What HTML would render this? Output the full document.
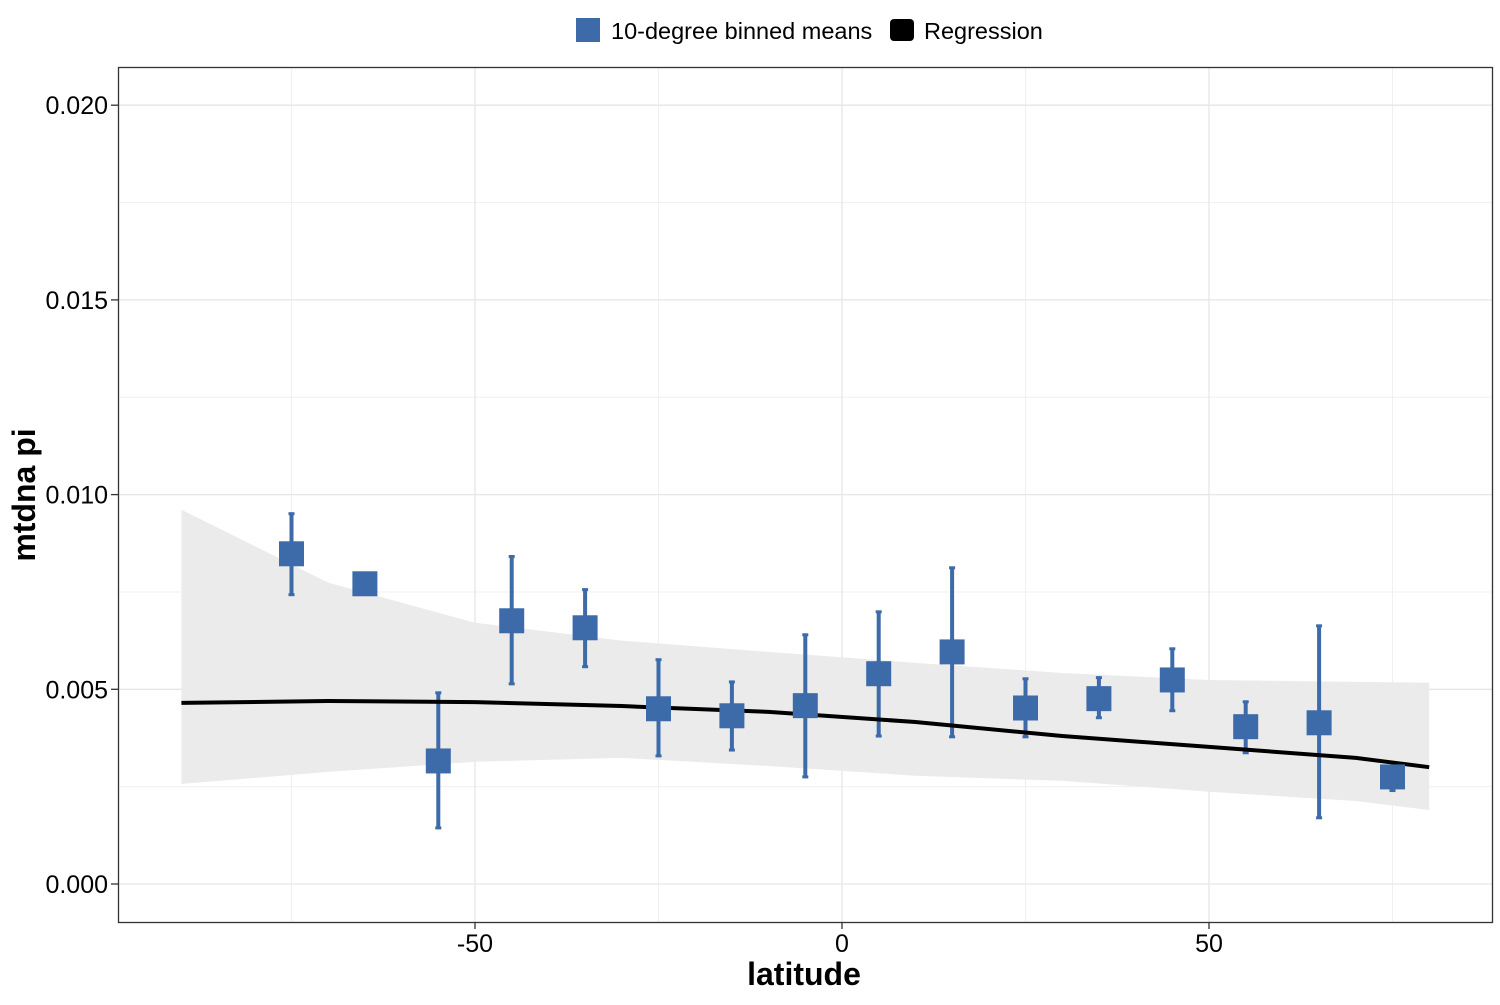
<!DOCTYPE html>
<html><head><meta charset="utf-8"><style>
body{margin:0;background:#fff;font-family:"Liberation Sans",sans-serif}
</style></head><body>
<svg width="1500" height="1000" xmlns="http://www.w3.org/2000/svg">
<g id="grid"></g>
<g id="plot"></g>
<rect x="118.5" y="67.5" width="1374" height="855" fill="none" stroke="#333" stroke-width="1.3"/>
<g id="axes"></g>
<text x="804" y="985" font-size="32" font-weight="bold" text-anchor="middle">latitude</text>
<text transform="translate(35,495) rotate(-90)" font-size="32" font-weight="bold" text-anchor="middle">mtdna pi</text>
<g>
<g><rect x="576" y="18" width="24" height="24" fill="#3d6aa8"/><text x="611" y="39" font-size="23.5">10-degree binned means</text></g>
<g><rect x="890" y="19" width="24" height="22" fill="#000" rx="4"/><text x="924" y="39" font-size="23.5">Regression</text></g>
</g>
</svg>
<script>
const binLat=[-75,-65,-55,-45,-35,-25,-15,-5,5,15,25,35,45,55,65,75];
const binMean=[0.00848,0.00771,0.00316,0.00676,0.00658,0.0045,0.00432,0.00458,0.0054,0.00596,0.00452,0.00476,0.00524,0.00404,0.00414,0.00275];
const binHi=[0.00951,0.00771,0.00491,0.00841,0.00756,0.00576,0.00519,0.0064,0.00699,0.00812,0.00527,0.0053,0.00604,0.00468,0.00663,0.0029];
const binLo=[0.00743,0.00771,0.00144,0.00514,0.00558,0.00329,0.00344,0.00275,0.0038,0.00378,0.00378,0.00427,0.00445,0.00337,0.0017,0.0024];
const regLat=[-90,-70,-50,-30,-10,10,30,50,70,80];
const regFit=[0.00465,0.0047,0.00467,0.00457,0.00442,0.00416,0.0038,0.00352,0.00324,0.003];
const regHi=[0.00961,0.00774,0.00671,0.00625,0.00596,0.00568,0.00542,0.00524,0.00519,0.00517];
const regLo=[0.00257,0.00288,0.00314,0.00324,0.00303,0.00278,0.00265,0.00237,0.00213,0.0019];
const xTicks=[-50,0,50];
const xMinor=[-75,-25,25,75];
const yTicks=[0,0.005,0.01,0.015,0.02];
const yTickLabels=["0.000","0.005","0.010","0.015","0.020"];
const yMinor=[0.0025,0.0075,0.0125,0.0175];
const X=v=>842+v*7.34;
const Y=v=>884-v*38940;
const NS="http://www.w3.org/2000/svg";
function mk(p,t,a){const e=document.createElementNS(NS,t);for(const k in a)e.setAttribute(k,a[k]);p.appendChild(e);return e;}
const grid=document.getElementById('grid'),plot=document.getElementById('plot'),axes=document.getElementById('axes');
xMinor.forEach(v=>{const l=mk(grid,'line',{x1:X(v),x2:X(v),y1:67,y2:922,stroke:'#f0f0f0','stroke-width':1});

});
yMinor.forEach(v=>{const l=mk(grid,'line',{x1:118,x2:1492,y1:Y(v),y2:Y(v),stroke:'#f0f0f0','stroke-width':1});

});
xTicks.forEach(v=>{const l=mk(grid,'line',{x1:X(v),x2:X(v),y1:67,y2:922,stroke:'#e6e6e6','stroke-width':1.3});


const t=mk(axes,'line',{x1:X(v),x2:X(v),y1:922,y2:929,stroke:'#333','stroke-width':1.3});


const s=mk(axes,'text',{x:X(v),y:952,'font-size':25,'text-anchor':'middle',fill:'#000'});s.textContent=v;

});
yTicks.forEach((v,i)=>{const l=mk(grid,'line',{x1:118,x2:1492,y1:Y(v),y2:Y(v),stroke:'#e6e6e6','stroke-width':1.3});


const t=mk(axes,'line',{x1:111,x2:118,y1:Y(v),y2:Y(v),stroke:'#333','stroke-width':1.3});


const s=mk(axes,'text',{x:108,y:Y(v)+9,'font-size':25,'text-anchor':'end',fill:'#000'});s.textContent=yTickLabels[i];

});
let pts=regLat.map((v,i)=>X(v)+','+Y(regHi[i]));
for(let i=regLat.length-1;i>=0;i--)pts.push(X(regLat[i])+','+Y(regLo[i]));
const rib=mk(plot,'polygon',{points:pts.join(' '),fill:'#ebebeb'});


binLat.forEach((v,i)=>{const e=mk(plot,'line',{x1:X(v),x2:X(v),y1:Y(binHi[i]),y2:Y(binLo[i]),stroke:'#3d6aa8','stroke-width':4});


[binHi[i],binLo[i]].forEach(w=>{const c=mk(plot,'line',{x1:X(v)-3,x2:X(v)+3,y1:Y(w),y2:Y(w),stroke:'#3d6aa8','stroke-width':3});

});});
const ln=mk(plot,'polyline',{points:regLat.map((v,i)=>X(v)+','+Y(regFit[i])).join(' '),fill:'none',stroke:'#000','stroke-width':4});


binLat.forEach((v,i)=>{const r=mk(plot,'rect',{x:X(v)-12.5,y:Y(binMean[i])-12.5,width:25,height:25,fill:'#3d6aa8'});

});
</script>
</body></html>
